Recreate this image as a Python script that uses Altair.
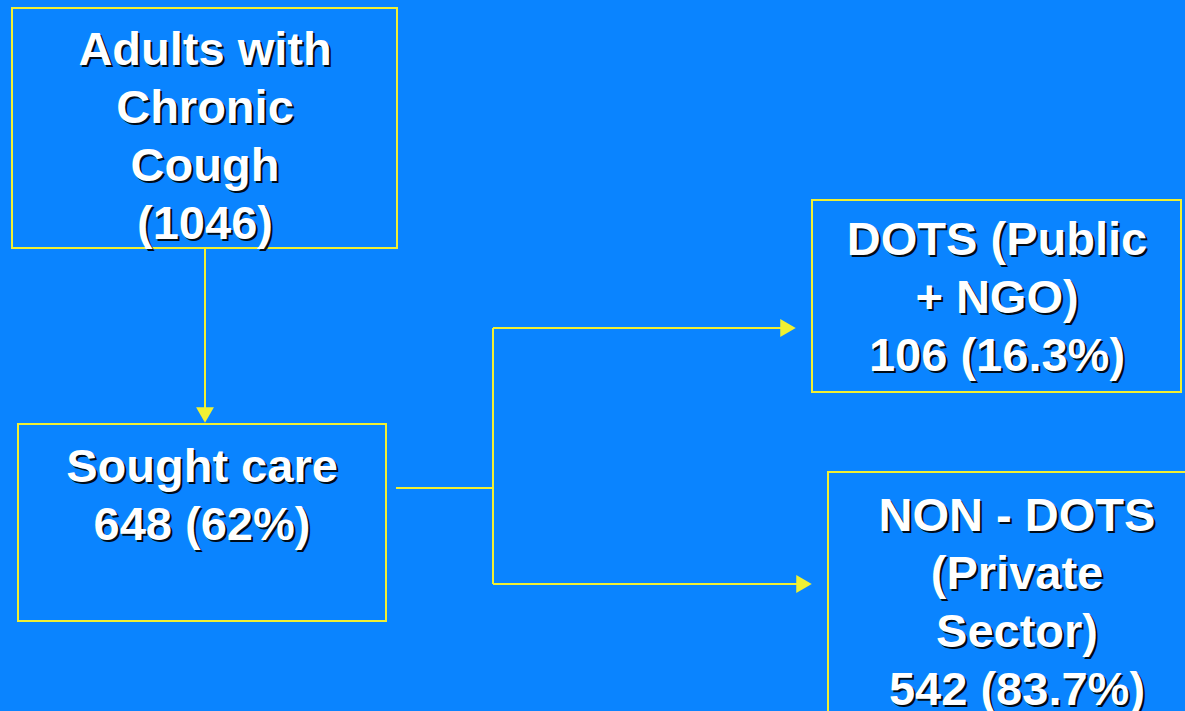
import altair as alt
import pandas as pd

# Flow of adults with chronic cough through the care system
node_labels = [
    "Adults with\nChronic\nCough\n(1046)",
    "Sought care\n648 (62%)",
    "DOTS (Public\n+ NGO)\n106 (16.3%)",
    "NON - DOTS\n(Private\nSector)\n542 (83.7%)",
]

# Box layout (canvas pixels, origin top-left)
box_x1 = [12, 18, 812, 828]
box_x2 = [397, 386, 1181, 1230]
box_y1 = [8, 424, 200, 472]
box_y2 = [248, 621, 392, 760]

# Text anchor: horizontal centre and first-line baseline
text_x = [205, 202, 997, 1017]
text_y = [65, 482, 255, 531]

# Connector segments
seg_x1 = [205, 396, 493, 493, 493]
seg_x2 = [205, 493, 493, 781, 797]
seg_y1 = [248, 488, 328, 328, 584]
seg_y2 = [408, 488, 584, 328, 584]

# Arrowheads
arrow_x = [205, 788, 804]
arrow_y = [415, 328, 584]
arrow_shape = ["triangle-down", "triangle-right", "triangle-right"]

BG = "#0A84FF"
YELLOW = "#F0F032"
W, H = 1185, 711

xs = alt.Scale(domain=[0, W], nice=False, zero=False)
ys = alt.Scale(domain=[0, H], nice=False, zero=False, reverse=True)

boxes = pd.DataFrame({"x": box_x1, "x2": box_x2, "y": box_y1, "y2": box_y2})
texts = pd.DataFrame({"x": text_x, "y": text_y, "label": node_labels})
segs = pd.DataFrame({"x": seg_x1, "x2": seg_x2, "y": seg_y1, "y2": seg_y2})
arrows = pd.DataFrame({"x": arrow_x, "y": arrow_y, "shape": arrow_shape})

rects = alt.Chart(boxes).mark_rect(
    fill="transparent", stroke=YELLOW, strokeWidth=2
).encode(
    x=alt.X("x:Q", scale=xs, axis=None),
    x2="x2:Q",
    y=alt.Y("y:Q", scale=ys, axis=None),
    y2="y2:Q",
)

lines = alt.Chart(segs).mark_rule(color=YELLOW, strokeWidth=2).encode(
    x=alt.X("x:Q", scale=xs, axis=None),
    x2="x2:Q",
    y=alt.Y("y:Q", scale=ys, axis=None),
    y2="y2:Q",
)

heads = alt.Chart(arrows).mark_point(
    filled=True, color=YELLOW, opacity=1, size=320
).encode(
    x=alt.X("x:Q", scale=xs, axis=None),
    y=alt.Y("y:Q", scale=ys, axis=None),
    shape=alt.Shape("shape:N", scale=None, legend=None),
)

text_style = dict(
    font="Liberation Sans",
    fontWeight="bold",
    fontSize=47,
    align="center",
    baseline="alphabetic",
    lineBreak="\n",
    lineHeight=58,
)

shadow = alt.Chart(texts).mark_text(
    color="#000000", opacity=0.9, dx=2, dy=2, **text_style
).encode(
    x=alt.X("x:Q", scale=xs, axis=None),
    y=alt.Y("y:Q", scale=ys, axis=None),
    text="label:N",
)

labels = alt.Chart(texts).mark_text(color="#FFFFFF", **text_style).encode(
    x=alt.X("x:Q", scale=xs, axis=None),
    y=alt.Y("y:Q", scale=ys, axis=None),
    text="label:N",
)

chart = alt.layer(rects, lines, heads, shadow, labels).properties(
    width=W,
    height=H,
    background=BG,
    padding=0,
    autosize=alt.AutoSizeParams(type="none"),
).configure_view(stroke=None)

chart.save("out.html", embed_options={"renderer": "svg", "actions": False})
